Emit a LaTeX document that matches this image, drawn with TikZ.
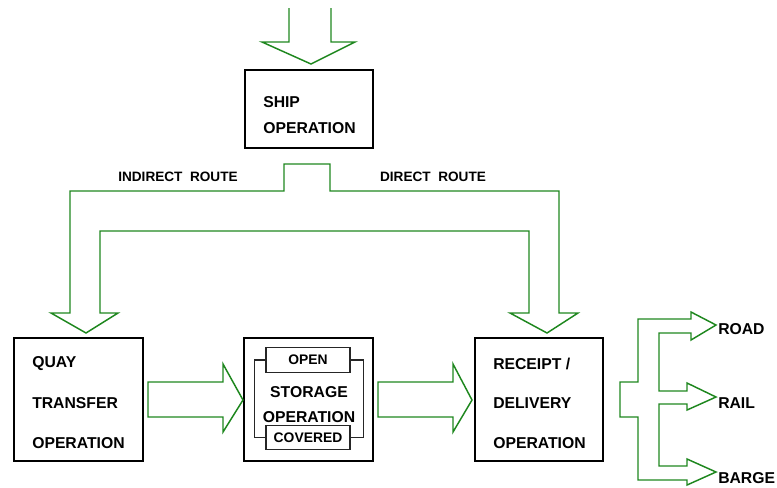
\documentclass[tikz,border=0pt]{standalone}
\usepackage{fontspec}
\setmainfont{Liberation Sans}
\definecolor{arrowgreen}{RGB}{30,135,30}
\begin{document}
\begin{tikzpicture}[x=0.75pt,y=-0.75pt,
  box/.style={draw=black, line width=2.2pt, inner sep=0pt},
  subbox/.style={draw=black!85, line width=0.8pt, inner sep=0pt, minimum width=63pt, minimum height=18.5pt,
    font=\bfseries\fontsize{10.4}{12}\selectfont},
  bracketline/.style={draw=black!85, line width=0.8pt},
  garrow/.style={draw=arrowgreen, line width=1.1pt, line join=miter},
  lbl/.style={font=\bfseries\fontsize{11.8}{13}\selectfont, anchor=west, inner sep=0pt},
  clbl/.style={font=\bfseries\fontsize{11.8}{13}\selectfont, inner sep=0pt},
  rlbl/.style={font=\bfseries\fontsize{10.2}{12}\selectfont, inner sep=0pt}]
\useasboundingbox (0,0) rectangle (777,487);

% boxes
\node[box, minimum width=96pt, minimum height=58.5pt] (ship) at (309,109) {};
\node[box, minimum width=96.75pt, minimum height=92.25pt] (quay) at (78.5,399.5) {};
\node[box, minimum width=96.75pt, minimum height=92.25pt] (storage) at (308.5,399.5) {};
\node[box, minimum width=96pt, minimum height=92.25pt] (receipt) at (539,399.5) {};

% box texts
\node[lbl] (shipA) at (263,102) {SHIP};
\node[lbl] (shipB) at (263,128) {OPERATION};
\node[lbl] (quayA) at (32,364) {QUAY};
\node[lbl] (quayB) at (32,403) {TRANSFER};
\node[lbl] (quayC) at (32,443) {OPERATION};
\node[lbl] (recA) at (493,364) {RECEIPT /};
\node[lbl] (recB) at (493,403) {DELIVERY};
\node[lbl] (recC) at (493,443) {OPERATION};

% storage inner
\node[subbox] (open) at (308,360) {OPEN};
\node[subbox] (covered) at (308,437.5) {COVERED};
\draw[bracketline] (open.west) -- ++(-11,0) |- (covered.west);
\draw[bracketline] (open.east) -- ++(13,0) |- (covered.east);
\node[clbl] (stA) at (309,392) {STORAGE};
\node[clbl] (stB) at (309,417) {OPERATION};

% route labels
\node[rlbl] (indirect) at (178,177) {INDIRECT~~ROUTE};
\node[rlbl] (direct) at (433,177) {DIRECT~~ROUTE};

% destination labels
\node[lbl] (road) at (718,329) {ROAD};
\node[lbl] (rail) at (718,403) {RAIL};
\node[lbl] (barge) at (718,478) {BARGE};

% top arrow into ship
\draw[garrow] (289,8) -- (289,42) -- (262,42) -- (311,64) -- (355,42) -- (331,42) -- (331,8);

% route arrows
\draw[garrow] (70,313) -- (70,191) -- (284,191) -- (284,164) -- (330,164) -- (330,191)
  -- (559,191) -- (559,313) -- (578,313) -- (547,333) -- (510,313) -- (529,313)
  -- (529,231) -- (100,231) -- (100,313) -- (118,313) -- (86,333) -- (51,313) -- cycle;

% quay -> storage
\draw[garrow] (148,382) -- (223,382) -- (223,364) -- (243,400) -- (223,432) -- (223,417) -- (148,417) -- cycle;
% storage -> receipt
\draw[garrow] (378,382) -- (453,382) -- (453,364) -- (472,400) -- (453,432) -- (453,417) -- (378,417) -- cycle;

% fork to road / rail / barge
\draw[garrow] (620,382) -- (638,382) -- (638,319) -- (691,319) -- (691,312) -- (716,325) -- (691,340) -- (691,333)
  -- (659,333) -- (659,391) -- (687,391) -- (687,383) -- (716,397) -- (687,410) -- (687,404)
  -- (659,404) -- (659,466) -- (687,466) -- (687,459) -- (716,472) -- (687,485) -- (687,480)
  -- (638,480) -- (638,417) -- (620,417) -- cycle;
\end{tikzpicture}
\end{document}
